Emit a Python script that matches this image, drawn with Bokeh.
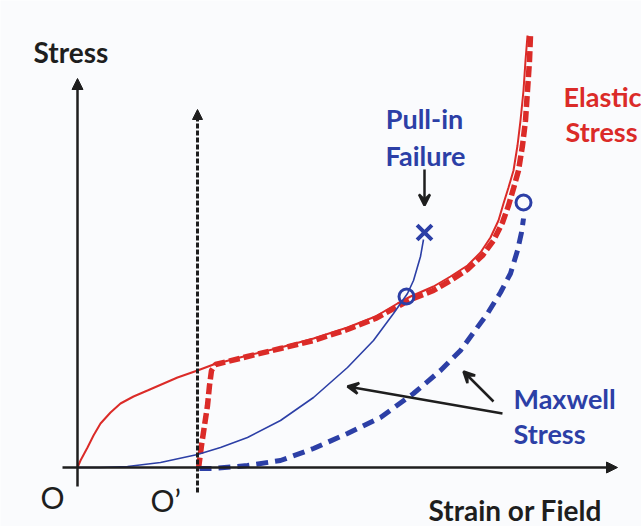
from bokeh.plotting import figure
from bokeh.models import Range1d, Arrow, NormalHead, VeeHead, ColumnDataSource
from bokeh.core.properties import value
from bokeh.embed import file_html
from bokeh.resources import INLINE

# Schematic stress curves, origin O at (0, 0), O' shifted along strain.
o_prime = 120

elastic_x = [0, 3, 10, 16, 23, 33, 43, 56, 70, 100, 120, 136, 170, 203, 236, 270, 298, 320, 333,
             356, 373, 390, 403, 413, 421, 426, 431, 436, 440, 443, 446, 448, 450]
elastic_y = [0, 7, 20, 32, 44, 55, 64, 71, 77, 90, 97, 103, 112, 120, 129, 140, 151, 164, 171,
             181, 191, 202, 215, 230, 247, 264, 280, 297, 322, 347, 377, 407, 432]

elastic_pre_x = [121, 124, 127, 130, 132, 134, 138, 170, 203, 236, 270, 298, 320, 333, 356, 373,
                 390, 405, 416, 425, 431, 436, 441, 445, 448, 450, 452, 453]
elastic_pre_y = [-1, 22, 42, 62, 82, 97, 103, 111, 119, 127, 138, 149, 161, 168, 177, 187,
                 198, 212, 227, 245, 262, 279, 297, 322, 347, 377, 407, 432]

maxwell_x = [0, 23, 50, 83, 120, 143, 170, 203, 236, 270, 296, 316, 330, 336, 343, 346]
maxwell_y = [0, 0, 1, 5, 13, 20, 30, 47, 70, 100, 127, 154, 174, 187, 211, 228]

maxwell_pre_x = [122, 136, 170, 203, 236, 270, 303, 336, 363, 383, 410, 423, 433, 440, 444, 446]
maxwell_pre_y = [-1, -1, 2, 7, 19, 34, 50, 74, 97, 117, 154, 175, 194, 217, 235, 249]

stable_x = [329, 446]
stable_y = [171, 265]
failure_x = [347]
failure_y = [235]

RED = "#db2b28"
BLUE = "#2c3fa6"
INK = "#1e1e1e"
FONT = "Lato"

p = figure(width=641, height=526, output_backend="svg", toolbar_location=None,
           x_range=Range1d(-77, 564), y_range=Range1d(-59, 467),
           min_border=0, outline_line_color=None,
           background_fill_color="#fafbfd", border_fill_color="#fafbfd")
p.axis.visible = False
p.grid.visible = False

# axes drawn as arrows
p.add_layout(Arrow(x_start=0, y_start=-19, x_end=0, y_end=389, line_width=2.5, line_color=INK,
                   end=NormalHead(size=11, fill_color=INK, line_color=INK)))
p.add_layout(Arrow(x_start=-15, y_start=0, x_end=540, y_end=0, line_width=2.5, line_color=INK,
                   end=NormalHead(size=11, fill_color=INK, line_color=INK)))
p.add_layout(Arrow(x_start=o_prime, y_start=-25, x_end=o_prime, y_end=358, line_width=3,
                   line_color=INK, line_dash="5 2",
                   end=NormalHead(size=10, fill_color=INK, line_color=INK)))

p.line(elastic_x, elastic_y, line_color=RED, line_width=2)
p.line(elastic_pre_x, elastic_pre_y, line_color=RED, line_width=5.5, line_dash="11 4")
p.line(maxwell_x, maxwell_y, line_color=BLUE, line_width=1.6)
p.line(maxwell_pre_x, maxwell_pre_y, line_color=BLUE, line_width=5, line_dash="12 7")

p.scatter(stable_x, stable_y, marker="circle", size=15, fill_color=None, line_color=BLUE, line_width=3)
p.scatter(failure_x, failure_y, marker="x", size=21, line_color=BLUE, line_width=4)

# annotation arrows
head = dict(size=11, line_width=2.5, line_color=INK)
p.add_layout(Arrow(x_start=347, y_start=298, x_end=347, y_end=262, line_width=2.5,
                   line_color=INK, end=VeeHead(**head, fill_color=INK)))
p.add_layout(Arrow(x_start=425, y_start=54, x_end=270, y_end=81, line_width=2.5,
                   line_color=INK, end=VeeHead(**head, fill_color=INK)))
p.add_layout(Arrow(x_start=416, y_start=66, x_end=386, y_end=96, line_width=2.5,
                   line_color=INK, end=VeeHead(**head, fill_color=INK)))

labels = ColumnDataSource(dict(
    x=[-44, 351],
    y=[416, -42],
    t=["Stress", "Strain or Field"],
))
p.text("x", "y", "t", source=labels, text_font=value(FONT), text_font_style="bold",
       text_font_size="28px", text_color=INK, text_baseline="alphabetic", text_align="left")

origins = ColumnDataSource(dict(x=[-37, 73], y=[-29, -32], t=["O", "O\u2019"]))
p.text("x", "y", "t", source=origins, text_font=value(FONT), text_font_size="30px",
       text_color=INK, text_baseline="alphabetic", text_align="left")

p.text([347, 348], [349, 312], ["Pull-in", "Failure"], text_font=value(FONT),
       text_font_style="bold", text_font_size="27px", text_color=BLUE,
       text_baseline="alphabetic", text_align="center")
p.text([436, 436], [69, 34], ["Maxwell", "Stress"], text_font=value(FONT),
       text_font_style="bold", text_font_size="27px", text_color=BLUE,
       text_baseline="alphabetic", text_align="left")
p.text([486, 488], [371, 336], ["Elastic", "Stress"], text_font=value(FONT),
       text_font_style="bold", text_font_size="27px", text_color=RED,
       text_baseline="alphabetic", text_align="left")

open("out.html", "w").write(file_html(p, INLINE))
